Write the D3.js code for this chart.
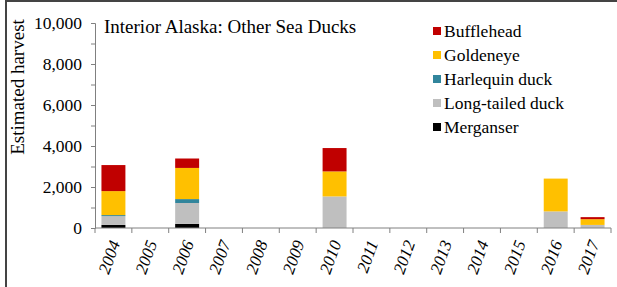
<!DOCTYPE html>
<html>
<head>
<meta charset="utf-8">
<script src="https://cdn.jsdelivr.net/npm/d3@7"></script>
<style>
  body { margin: 0; background: #fff; }
</style>
</head>
<body>
<script>
// data
const years = ["2004", "2005", "2006", "2007", "2008", "2009", "2010", "2011", "2012", "2013", "2014", "2015", "2016", "2017"];
const species = ["Bufflehead", "Goldeneye", "Harlequin duck", "Long-tailed duck", "Merganser"];
const bufflehead = [1270, 0, 460, 0, 0, 0, 1140, 0, 0, 0, 0, 0, 0, 100];
const goldeneye  = [1170, 0, 1520, 0, 0, 0, 1220, 0, 0, 0, 0, 0, 1600, 280];
const harlequin  = [50, 0, 190, 0, 0, 0, 0, 0, 0, 0, 0, 0, 0, 0];
const longtailed = [430, 0, 1020, 0, 0, 0, 1540, 0, 0, 0, 0, 0, 810, 150];
const merganser  = [150, 0, 200, 0, 0, 0, 0, 0, 0, 0, 0, 0, 0, 0];
const yTicks = [0, 2000, 4000, 6000, 8000, 10000];
const colors = ["#C00000", "#FFC000", "#31859C", "#BFBFBF", "#000000"];

const serif = "Liberation Serif";
const width = 617, height = 287;
const margin = {left: 95, right: 6, top: 23, bottom: 59};

const svg = d3.select("body").append("svg")
  .attr("width", width)
  .attr("height", height)
  .attr("font-family", serif);

// frame (top and left only visible)
svg.append("line").attr("x1", 6).attr("x2", width).attr("y1", 1).attr("y2", 1)
  .attr("stroke", "#444").attr("stroke-width", 2);
svg.append("line").attr("x1", 6).attr("x2", 6).attr("y1", 0).attr("y2", height)
  .attr("stroke", "#444").attr("stroke-width", 2);

const rows = years.map((y, i) => ({
  year: y,
  "Bufflehead": bufflehead[i],
  "Goldeneye": goldeneye[i],
  "Harlequin duck": harlequin[i],
  "Long-tailed duck": longtailed[i],
  "Merganser": merganser[i]
}));

const color = d3.scaleOrdinal().domain(species).range(colors);

const x = d3.scaleBand()
  .domain(years)
  .range([margin.left, width - margin.right])
  .paddingInner(0.35)
  .paddingOuter(0.175);

const y = d3.scaleLinear()
  .domain([0, 10000])
  .range([height - margin.bottom, margin.top]);

// stack from bottom: Merganser first
const stack = d3.stack().keys(species.slice().reverse());
const series = stack(rows);

svg.append("g").selectAll("g")
  .data(series)
  .enter().append("g")
  .attr("fill", d => color(d.key))
  .selectAll("rect")
  .data(d => d)
  .enter().append("rect")
  .attr("x", d => x(d.data.year))
  .attr("y", d => y(d[1]))
  .attr("width", x.bandwidth())
  .attr("height", d => y(d[0]) - y(d[1]));

// y axis
const yAxis = svg.append("g")
  .attr("transform", "translate(" + margin.left + ",0)")
  .call(d3.axisLeft(y).tickValues(d3.range(0, 10001, 1000)).tickSize(4)
    .tickFormat(d => yTicks.includes(d) ? d3.format(",")(d) : ""));
yAxis.attr("font-family", serif).attr("font-size", 17.5);
yAxis.select(".domain").attr("stroke", "#808080");
yAxis.selectAll(".tick line").attr("stroke", "#808080");
yAxis.selectAll(".tick text")
  .attr("x", -13)
  .attr("fill", "#000");

// x axis: ticks at category boundaries
const step = x.step();
const bounds = d3.range(years.length + 1).map(i => margin.left + i * step);
const xg = svg.append("g");
xg.append("line")
  .attr("x1", margin.left).attr("x2", width - margin.right)
  .attr("y1", y(0)).attr("y2", y(0))
  .attr("stroke", "#808080");
xg.selectAll(".bt").data(bounds).enter().append("line")
  .attr("x1", d => d).attr("x2", d => d)
  .attr("y1", y(0)).attr("y2", y(0) + 5)
  .attr("stroke", "#808080");
xg.selectAll(".yl").data(years).enter().append("text")
  .attr("transform", d => "translate(" + (x(d) + x.bandwidth() / 2 + 7) + "," + (y(0) + 15) + ") rotate(-70)")
  .attr("text-anchor", "end")
  .attr("font-family", serif)
  .attr("font-size", 17)
  .attr("font-style", "italic")
  .text(d => d);

// y axis title
svg.append("text")
  .attr("transform", "translate(23.5," + 87 + ") rotate(-90)")
  .attr("text-anchor", "middle")
  .attr("font-family", serif)
  .attr("font-size", 19)
  .text("Estimated harvest");

// chart title
svg.append("text")
  .attr("x", 104)
  .attr("y", 33)
  .attr("font-family", serif)
  .attr("font-size", 19)
  .text("Interior Alaska: Other Sea Ducks");

// legend
const legend = svg.append("g").selectAll("g")
  .data(species)
  .enter().append("g")
  .attr("transform", (d, i) => "translate(433," + (31 + i * 24) + ")");
legend.append("rect")
  .attr("x", 0).attr("y", -4)
  .attr("width", 8).attr("height", 8)
  .attr("fill", d => color(d));
legend.append("text")
  .attr("x", 11).attr("y", 5.5)
  .attr("font-family", serif)
  .attr("font-size", 17.5)
  .text(d => d);
</script>
</body>
</html>
